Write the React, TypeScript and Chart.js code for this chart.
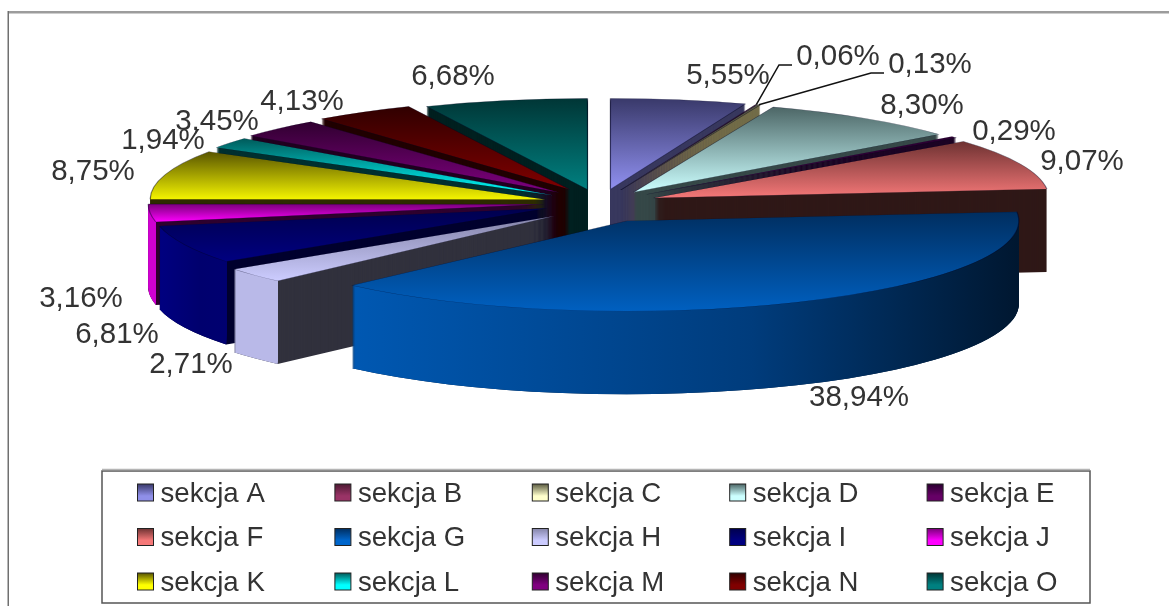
import React, { useEffect, useRef } from "react";
import { Chart, registerables } from "chart.js";

Chart.register(...registerables);

const categories = ["sekcja A", "sekcja B", "sekcja C", "sekcja D", "sekcja E", "sekcja F", "sekcja G", "sekcja H", "sekcja I", "sekcja J", "sekcja K", "sekcja L", "sekcja M", "sekcja N", "sekcja O"];
const shares = [5.55, 0.06, 0.13, 8.3, 0.29, 9.07, 38.94, 2.71, 6.81, 3.16, 8.75, 1.94, 3.45, 4.13, 6.68];

// Face colours: far edge -> near edge of each slice's top surface
const faceDark = ["#39396a", "#4d1a33", "#5c5c42", "#4c6666", "#2a0030", "#6e3232", "#002e60", "#8484a8", "#00004e", "#7a007a", "#585400", "#005a5a", "#300030", "#300000", "#003636"];
const faceLight = ["#9090f0", "#993366", "#6a6a4c", "#ccffff", "#3a0040", "#f57878", "#0060c0", "#ccccff", "#000080", "#ff00ff", "#f4f400", "#00ffff", "#800080", "#800000", "#008080"];
// Flat radial wall of each slice
const wallColor = ["#38385e", "#4d1a33", "#726c48", "#364848", "#1c0424", "#2f1817", "#001e40", "#31313d", "#00002e", "#2e002e", "#2e2c00", "#003030", "#200020", "#200000", "#002020"];
// Curved outer rim, left -> right
const rimLeft = ["#38385e", "#4d1a33", "#726c48", "#364848", "#1c0424", "#2f1817", "#0058b2", "#b9b9e8", "#000080", "#d000d0", "#2e2c00", "#003030", "#200020", "#200000", "#002020"];
const rimMid = ["#38385e", "#4d1a33", "#726c48", "#364848", "#1c0424", "#2f1817", "#003c7c", "#b9b9e8", "#00006e", "#d000d0", "#2e2c00", "#003030", "#200020", "#200000", "#002020"];
const rimRight = ["#38385e", "#4d1a33", "#726c48", "#364848", "#1c0424", "#2f1817", "#001730", "#b9b9e8", "#000070", "#d000d0", "#2e2c00", "#003030", "#200020", "#200000", "#002020"];
const legendFill = ["#8f8fe8", "#993366", "#ffffcc", "#ccffff", "#660066", "#f57878", "#0066cc", "#ccccff", "#000080", "#ff00ff", "#ffff00", "#00ffff", "#800080", "#800000", "#008080"];

// How far each slice is pulled out of the pie (page pixels along the wide axis)
const explode = [60, 60, 60, 58, 60, 58, 62, 60, 58, 57, 57, 58, 58, 58, 60];
// Extra downward drag of hand-moved slices (page pixels)
const dragY = [0, 0, 0, 0, 0, 0, 5, 4, 0, 0, 0, 0, -1, -2, 0];
// Radius of each slice relative to the pie
const sliceRadius = [1, 1, 1, 1, 1, 1, 0.9925, 1, 1, 1, 1, 1, 1, 1, 1];
// Data label centres, placed by hand as in the reference
const labelX = [728, 838, 930, 922, 1014, 1082, 859, 191, 117, 81, 93, 163, 217, 302, 453];
const labelY = [76, 57, 65, 106, 132, 162, 398, 365, 335, 299, 172, 141, 122, 102, 77];

const pieCx = 600;
const pieCy = 203;
const pieRx = 395;
const pieRy = 91;
const pieDepth = 83;
const FONT = '"Liberation Sans", Arial, sans-serif';
const TEXT = "#333333";

const percentText = (v: number) => v.toFixed(2).replace(".", ",") + "%";

function applyPie(ctx: CanvasRenderingContext2D, chart: any, dy = 0) {
  const arc = chart.getDatasetMeta(0).data[0];
  const R = arc.outerRadius;
  const ca = chart.chartArea;
  ctx.translate(pieCx, pieCy + dy);
  ctx.scale(pieRx / R, pieRy / R);
  ctx.translate(-(ca.left + ca.right) / 2, -(ca.top + ca.bottom) / 2);
}

function toPage(chart: any, x: number, y: number) {
  const R = chart.getDatasetMeta(0).data[0].outerRadius;
  const ca = chart.chartArea;
  return {
    x: pieCx + ((x - (ca.left + ca.right) / 2) * pieRx) / R,
    y: pieCy + ((y - (ca.top + ca.bottom) / 2) * pieRy) / R,
  };
}

function drawWith(arc: any, ctx: CanvasRenderingContext2D, fill: any) {
  const orig = arc.options;
  const o = Object.create(orig);
  o.backgroundColor = fill;
  o.borderWidth = 0;
  arc.options = o;
  arc.draw(ctx);
  arc.options = orig;
}

const piePlugin = {
  id: "pie3d",
  afterDatasetsUpdate(chart: any) {
    const arcs = chart.getDatasetMeta(0).data;
    const R = arcs[0].outerRadius;
    arcs.forEach((arc: any, i: number) => {
      const half = (arc.startAngle + arc.endAngle) / 2;
      const d = (explode[i] * R) / pieRx;
      arc.x += Math.cos(half) * d;
      arc.y += Math.sin(half) * d + (dragY[i] * R) / pieRy;
      arc.outerRadius = R * sliceRadius[i];
    });
  },
  beforeDatasetsDraw(chart: any) {
    const ctx: CanvasRenderingContext2D = chart.ctx;
    const arcs: any[] = chart.getDatasetMeta(0).data;
    const order = arcs.map((_, i) => i).sort((a, b) => {
      const m = (k: number) => Math.sin((arcs[k].startAngle + arcs[k].endAngle) / 2);
      return m(a) - m(b);
    });
    // Walls, back to front
    for (const i of order) {
      const arc = arcs[i];
      const R = arc.outerRadius;
      for (let dy = pieDepth; dy >= 1; dy--) {
        ctx.save();
        applyPie(ctx, chart, dy);
        drawWith(arc, ctx, wallColor[i]);
        ctx.restore();
      }
      // The part of the rim that faces the viewer
      const a0 = Math.max(arc.startAngle, 0);
      const a1 = Math.min(arc.endAngle, Math.PI);
      if (a1 > a0) {
        const xa = arc.x + R * Math.cos(a0);
        const xb = arc.x + R * Math.cos(a1);
        const left = Math.min(xa, xb);
        const right = Math.max(xa, xb);
        const pl = toPage(chart, left, 0).x;
        const pr = toPage(chart, right, 0).x;
        const rim = ctx.createLinearGradient(left, 0, right, 0);
        rim.addColorStop(0, rimLeft[i]);
        rim.addColorStop(0.6, rimMid[i]);
        rim.addColorStop(1, rimRight[i]);
        ctx.save();
        ctx.beginPath();
        ctx.rect(pl, 0, pr - pl, 606);
        ctx.clip();
        for (let dy = pieDepth; dy >= 1; dy--) {
          ctx.save();
          applyPie(ctx, chart, dy);
          drawWith(arc, ctx, rim);
          ctx.restore();
        }
        ctx.restore();
      }
    }
    // Top faces: vertical gradient over each slice's extent
    arcs.forEach((arc: any, i: number) => {
      const R = arc.outerRadius;
      const ys = [arc.y, arc.y + R * Math.sin(arc.startAngle), arc.y + R * Math.sin(arc.endAngle)];
      if (arc.startAngle < -Math.PI / 2 + 1e-6 || arc.endAngle > 1.5 * Math.PI - 1e-6) ys.push(arc.y - R);
      if (arc.startAngle < Math.PI / 2 && arc.endAngle > Math.PI / 2) ys.push(arc.y + R);
      const g = ctx.createLinearGradient(0, Math.min(...ys), 0, Math.max(...ys));
      g.addColorStop(0, faceDark[i]);
      g.addColorStop(1, faceLight[i]);
      const o = Object.create(arc.options);
      o.backgroundColor = g;
      arc.options = o;
    });
    ctx.save();
    applyPie(ctx, chart);
  },
  afterDatasetsDraw(chart: any) {
    chart.ctx.restore();
  },
};

const framePlugin = {
  id: "frame",
  beforeDraw(chart: any) {
    const ctx: CanvasRenderingContext2D = chart.ctx;
    ctx.save();
    ctx.fillStyle = "#ffffff";
    ctx.fillRect(0, 0, 1169, 606);
    ctx.fillStyle = "#9c9c9c";
    ctx.fillRect(8, 11, 1161, 2.5);
    ctx.fillStyle = "#707070";
    ctx.fillRect(7.5, 11, 1.5, 595);
    ctx.restore();
  },
};

const annotationPlugin = {
  id: "annotations",
  afterDraw(chart: any) {
    const ctx: CanvasRenderingContext2D = chart.ctx;
    const arcs: any[] = chart.getDatasetMeta(0).data;
    ctx.save();
    // Leader lines for the two thinnest slices
    ctx.strokeStyle = "#111111";
    ctx.lineWidth = 1.5;
    [1, 2].forEach((i) => {
      const arc = arcs[i];
      const half = (arc.startAngle + arc.endAngle) / 2;
      const p = toPage(chart, arc.x + arc.outerRadius * Math.cos(half), arc.y + arc.outerRadius * Math.sin(half));
      const lx = labelX[i] - 46;
      const ly = labelY[i] + 8;
      ctx.beginPath();
      ctx.moveTo(p.x, p.y);
      ctx.lineTo(lx - 13, ly);
      ctx.lineTo(lx, ly);
      ctx.stroke();
    });
    // Data labels
    ctx.fillStyle = TEXT;
    ctx.font = `29.5px ${FONT}`;
    ctx.textAlign = "center";
    ctx.textBaseline = "middle";
    shares.forEach((v, i) => ctx.fillText(percentText(v), labelX[i], labelY[i]));
    // Legend
    ctx.fillStyle = "#ffffff";
    ctx.strokeStyle = "#555555";
    ctx.lineWidth = 1.5;
    ctx.fillRect(102, 471, 988, 132);
    ctx.strokeRect(102, 471, 988, 132);
    ctx.strokeStyle = "#b5b5b5";
    ctx.beginPath();
    ctx.moveTo(102, 469.5);
    ctx.lineTo(1090, 469.5);
    ctx.stroke();
    ctx.font = `27.6px ${FONT}`;
    ctx.textAlign = "left";
    categories.forEach((name, i) => {
      const col = i % 5;
      const row = Math.floor(i / 5);
      const x = 137.5 + col * 197.4;
      const y = 493 + row * 44.5;
      const g = ctx.createLinearGradient(0, y - 9, 0, y + 8);
      g.addColorStop(0, faceDark[i]);
      g.addColorStop(0.7, legendFill[i]);
      g.addColorStop(1, legendFill[i]);
      ctx.fillStyle = g;
      ctx.fillRect(x, y - 9, 16, 17);
      ctx.strokeStyle = "#222222";
      ctx.lineWidth = 1;
      ctx.strokeRect(x, y - 9, 16, 17);
      ctx.fillStyle = TEXT;
      ctx.fillText(name, x + 23, y + 1);
    });
    ctx.restore();
  },
};

export default function App() {
  const ref = useRef<HTMLCanvasElement>(null);
  useEffect(() => {
    const chart = new Chart(ref.current!, {
      type: "pie",
      data: {
        labels: categories,
        datasets: [{ data: shares, backgroundColor: legendFill, borderWidth: 1, borderColor: "rgba(0,0,30,0.45)", clip: false } as any],
      },
      options: {
        responsive: false,
        animation: false,
        devicePixelRatio: 1,
        layout: { padding: 0 },
        plugins: { legend: { display: false }, tooltip: { enabled: false }, title: { display: false } },
        events: [],
      } as any,
      plugins: [framePlugin, piePlugin, annotationPlugin],
    });
    return () => chart.destroy();
  }, []);
  return (
    <div style={{ position: "fixed", left: 0, top: 0, width: 1169, height: 606, background: "#fff" }}>
      <canvas ref={ref} width={1169} height={606} style={{ display: "block" }} />
    </div>
  );
}
